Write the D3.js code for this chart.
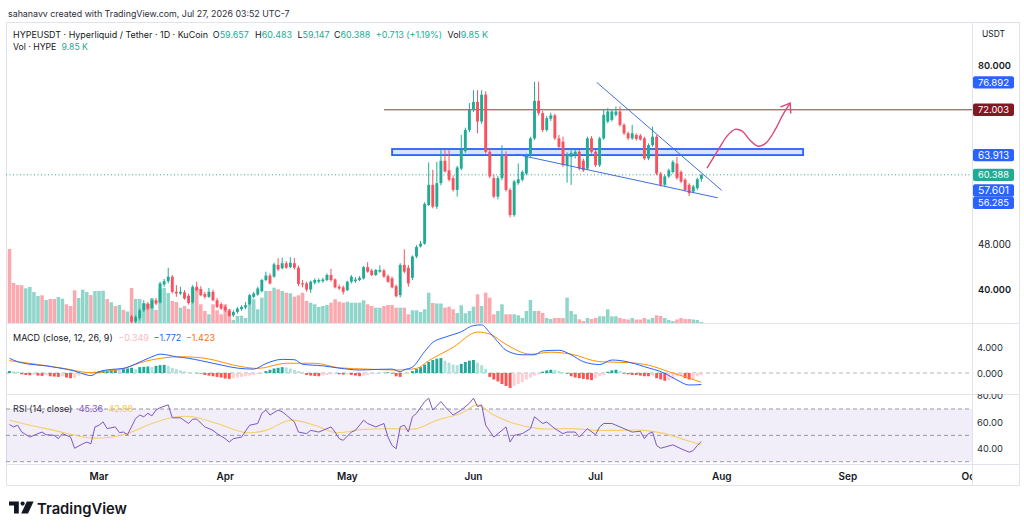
<!DOCTYPE html>
<html><head><meta charset="utf-8">
<script src="https://cdn.jsdelivr.net/npm/d3@7"></script>
<style>body{margin:0;background:#fff;} svg{display:block;font-family:Inter,"Noto Sans",sans-serif;}</style>
</head><body><svg id="c" width="1024" height="530"></svg>
<script>
// ---------------- DATA ----------------
const startDay = "2026-02-07";          // day 0
const endDomainDay = "2026-10-01";
const candleFirstDay = 30;              // candles visible from this day on
const opens = [
 35.1,34.2,34.8,36.2,37.4,36.6,38.0,37.6,40.8,41.4,
 42.2,39.5,39.2,39.4,38.8,37.6,40.4,40.0,39.1,38.6,
 39.5,38.0,37.3,36.8,36.1,35.3,35.9,36.4,36.7,37.3,
 38.6,39.0,39.6,41.6,42.4,42.2,44.3,43.7,44.6,43.9,
 44.6,43.8,41.0,41.0,39.9,41.1,41.3,41.4,41.6,42.5,
 41.7,40.4,40.3,39.8,41.3,41.4,41.6,41.9,43.9,43.3,
 42.5,43.1,43.3,42.3,41.9,40.5,38.9,44.3,43.8,42.0,
 45.8,47.6,48.1,55.0,58.6,54.7,58.9,62.9,61.2,59.8,
 57.7,61.5,64.6,68.4,72.0,73.4,69.9,74.7,64.5,59.8,
 56.5,59.8,64.0,57.7,53.2,58.9,59.5,60.6,63.9,66.9,
 73.6,71.4,68.4,70.4,71.0,66.9,66.3,62.1,63.6,64.0,
 64.5,62.9,61.5,66.9,64.5,62.1,66.9,69.9,70.2,71.1,
 71.7,69.3,67.8,66.9,67.5,67.4,66.9,63.3,65.7,67.2,
 60.6,58.6,60.1,60.9,62.4,60.9,59.5,58.6,57.4,58.0,
 59.657];
const highs = [
 35.4,35.3,36.5,38.0,37.7,38.3,38.4,41.3,41.8,43.8,
 42.5,40.7,40.4,39.8,39.2,40.7,41.3,40.5,39.5,40.2,
 39.9,38.4,37.6,37.1,36.4,36.2,36.8,37.1,37.7,39.1,
 39.5,40.4,41.8,43.1,42.8,44.7,45.5,45.6,45.0,45.7,
 45.5,44.2,41.6,41.3,41.5,41.9,41.9,42.0,42.8,43.6,
 41.9,40.8,40.6,41.5,42.5,42.1,42.3,44.1,44.8,43.6,
 43.6,44.2,43.6,42.6,42.2,40.8,44.6,47.1,44.3,46.0,
 47.8,48.6,55.5,62.6,61.3,62.7,64.8,64.8,64.8,60.3,
 62.0,67.5,68.8,73.2,75.5,75.5,75.5,75.3,65.2,60.5,
 60.2,65.7,64.6,58.0,59.5,62.4,61.2,64.2,67.2,77.0,
 77.0,71.8,70.9,71.5,71.3,67.5,67.2,64.4,64.8,64.9,
 64.8,63.3,67.2,67.3,64.8,67.2,72.0,72.3,72.0,72.6,
 72.6,69.6,68.1,69.3,67.8,67.7,67.2,66.0,69.0,67.5,
 60.9,60.4,61.5,63.0,63.6,61.2,59.8,58.9,58.6,59.9,
 60.483];
const lows = [
 33.9,33.8,34.4,35.9,36.2,36.4,37.1,37.4,40.4,41.0,
 39.2,38.6,38.9,38.1,37.2,37.4,39.6,38.7,38.3,38.4,
 37.8,36.6,36.3,35.9,35.0,35.0,35.6,36.1,36.4,37.1,
 38.3,38.8,39.4,41.4,40.8,42.0,43.2,43.5,43.6,43.7,
 43.5,40.5,40.3,39.5,39.3,40.8,41.0,41.1,41.4,41.3,
 40.1,39.8,39.0,39.6,41.0,41.1,41.4,41.7,42.9,42.3,
 42.3,42.9,42.0,41.1,40.1,38.5,38.5,42.8,40.4,41.6,
 45.5,47.4,47.9,54.8,54.4,54.3,58.5,60.8,59.2,57.4,
 56.5,61.2,64.3,68.0,71.6,67.8,69.5,64.2,59.8,56.2,
 56.0,59.4,57.4,52.8,52.9,58.6,59.2,60.3,63.6,66.6,
 71.0,68.0,68.1,70.0,66.6,65.1,61.8,59.0,58.6,63.3,
 61.2,60.9,61.2,64.2,61.8,61.8,66.6,69.6,69.9,70.8,
 69.0,67.5,66.6,66.6,66.5,66.5,63.0,63.0,65.4,60.3,
 58.3,58.3,59.8,60.6,59.5,58.9,57.4,56.6,57.1,57.7,
 59.147];
const closes = [
 34.2,35.0,36.2,37.4,36.5,38.0,37.4,41.0,41.4,42.2,
 39.5,39.2,39.5,38.3,37.5,40.4,39.8,38.9,38.6,39.5,
 38.0,36.8,36.5,36.2,35.2,35.9,36.5,36.8,37.1,38.9,
 39.2,40.1,41.6,42.4,41.0,44.4,43.5,44.6,43.8,44.7,
 43.8,40.9,40.8,39.9,41.3,41.6,41.6,41.7,42.5,41.6,
 40.3,40.1,39.5,41.3,42.2,41.7,42.0,43.9,43.1,42.5,
 43.4,43.4,42.2,41.3,40.3,38.7,44.3,43.1,41.0,45.8,
 47.5,48.1,55.2,58.6,54.7,58.9,62.9,61.0,59.5,57.7,
 61.7,64.8,68.4,72.0,73.4,69.9,74.7,64.5,60.1,56.5,
 59.8,64.0,57.7,53.2,59.2,59.6,60.9,63.9,66.9,73.6,
 71.4,68.4,70.5,71.0,66.9,65.4,62.1,63.9,64.3,64.5,
 61.5,61.2,66.9,64.5,62.1,66.9,71.1,71.7,71.7,71.7,
 69.3,67.8,66.9,67.8,66.8,66.7,63.3,65.7,67.2,60.6,
 58.6,60.1,61.2,62.7,59.8,59.2,57.7,57.1,58.3,59.6,
 60.388];
// volume (K) for every day from day 0
const volumes = [
 740,400,380,377,347,360,310,270,277,230,
 240,240,260,243,187,170,327,250,333,310,
 280,320,320,323,240,207,170,180,130,115,
 350,240,240,200,190,250,130,337,350,300,
 220,210,153,170,140,350,350,187,120,87,
 187,127,87,187,140,30,70,73,50,260,
 237,137,253,320,320,353,337,320,303,297,
 263,277,303,220,203,187,160,170,180,203,
 237,213,203,213,203,203,203,227,187,170,
 153,153,170,180,180,153,153,153,87,127,
 127,110,137,303,200,195,195,153,163,137,
 100,177,97,120,163,287,170,303,253,87,
 120,187,87,87,87,77,50,120,230,120,
 120,100,50,40,50,50,50,253,120,87,
 37,20,50,40,50,67,67,137,67,67,
 50,40,35,50,35,35,50,35,50,77,
 70,50,30,20,35,50,40,40,35,30,
 10];
const earlyVolDir = "dddduuuududduuddduuuduuudududu"; // days before first visible candle
// MACD histogram, daily
const macdHist = [
 0.3,0.25,0.2,-0.2,-0.3,-0.35,-0.3,-0.4,-0.45,-0.35,
 -0.5,-0.55,-0.6,-0.5,-0.7,-0.8,-0.75,-0.4,-0.2,-0.1,
 0.1,0.2,0.3,0.35,0.4,0.45,0.5,0.45,0.6,0.7,
 0.8,0.6,0.9,0.95,1.0,0.9,1.1,1.2,1.25,1.1,
 0.8,0.6,0.4,0.25,0.1,0.05,-0.05,-0.1,-0.3,-0.4,
 -0.5,-0.6,-0.7,-0.85,-0.9,-0.8,-0.7,-0.6,-0.5,-0.4,
 -0.3,-0.2,-0.1,0.3,0.5,0.7,0.8,0.9,0.85,0.7,
 0.5,0.3,0.1,-0.3,-0.4,-0.45,-0.5,-0.4,-0.3,-0.2,
 -0.15,-0.2,-0.25,-0.2,-0.3,-0.4,-0.5,-0.4,-0.3,-0.15,
 -0.1,-0.05,0.05,0.1,-0.1,-0.5,-0.6,-0.2,-0.05,0.3,
 0.6,0.9,1.3,1.7,2.0,2.2,2.3,1.9,1.6,1.3,
 1.2,1.4,1.7,1.9,2.0,1.6,1.2,0.6,-0.6,-1.0,
 -1.3,-1.7,-2.0,-2.3,-2.0,-1.7,-1.4,-1.0,-0.7,-0.4,
 -0.2,0.2,0.4,0.5,0.45,0.3,0.1,-0.1,-0.5,-0.7,
 -0.8,-0.9,-1.0,-1.1,-0.8,-0.5,-0.3,0.2,0.4,0.5,
 0.3,-0.1,-0.2,-0.3,-0.3,-0.4,-0.5,-0.5,-0.4,-0.8,
 -1.0,-1.2,-1.1,-0.9,-0.5,-0.4,-0.8,-1.0,-0.95,-0.5,
 -0.349];
const macdDays = [0,2,5,9,12,16,19,20,22,25,28,31,35,37,41,44,47,52,56,60,63,67,70,72,77,81,86,90,94,96,97,99,102,104,107,111,114,116,118,120,122,126,129,131,135,138,141,145,148,152,156,161,164,167,170];
const macdVals = [2.26,1.74,1.35,1.1,0.8,0.3,-0.3,-0.4,0.2,0.55,0.7,1.4,2.5,2.9,2.5,2.26,1.9,1.23,0.75,0.6,1.45,2.1,2.05,1.35,1.1,0.75,0.46,0.55,0.6,0.2,0.5,0.9,3.3,4.7,5.5,6.35,7.3,7.4,6.2,4.8,3.5,2.8,2.8,3.4,3.5,2.8,1.74,1.3,2.0,1.7,0.97,-0.05,-1.08,-1.85,-1.772];
const signalDays = [0,7,13,20,27,34,42,48,57,61,68,75,81,88,95,100,103,109,115,118,122,128,133,138,145,152,157,162,167,170];
const signalVals = [1.9,1.3,0.75,0.05,0.55,1.9,2.5,2.26,0.97,0.7,1.5,1.5,0.8,0.6,0.46,0.7,1.9,3.95,6.3,6.0,4.4,2.9,3.2,2.9,1.74,1.6,1.2,0.2,-0.8,-1.423];
const rsiDays = [0,1,2,3,5,7,8,9,11,12,13,15,16,18,19,20,21,22,23,24,26,27,28,29,31,32,33,34,35,36,37,39,40,42,44,45,46,48,50,51,53,54,55,57,59,61,62,63,64,66,67,68,70,71,73,74,76,78,79,80,81,82,84,85,87,88,90,92,93,94,95,96,97,98,99,100,102,103,104,106,107,109,111,113,114,115,116,117,119,121,122,123,124,126,128,129,131,132,134,136,137,139,140,142,144,145,146,148,150,152,153,155,156,157,158,159,160,163,165,167,168,169,170];
const rsiVals = [58.2,56.4,57.7,52.5,48.7,51.3,52.5,50.5,50,47.5,51.3,48.7,40.2,43.6,44.9,43.6,56.4,57.7,60.2,55.1,56.4,52.1,52.5,50.5,62.8,65.4,64.1,66.7,64.8,69.2,71,73.1,63.3,63.3,59,62.3,62.3,56.4,53.8,51.3,47.5,44.9,47.5,48.7,57.7,59,66.7,69.2,65.4,69.2,67.9,65.4,60.2,52.5,51.3,53.8,52.5,55.1,56.4,52.5,47.5,46.2,52.5,53.8,61.5,59,56.4,59,48.7,42.3,39.8,56.4,57.7,52.5,64.1,66.7,75.6,78.2,69.2,75.6,71.8,65.4,69.2,74.4,78.2,71.8,73.1,57.7,48.7,53.8,56.4,44.9,50,51.3,55.1,64.1,59,60.2,55.1,51.3,52.5,52.5,48.7,55.1,50.5,56.4,59,59,56.4,53.8,52.5,53.1,47.5,51.3,52.5,42.3,40.2,42.8,39.8,37.2,38.5,42.3,45.36];
const rsiMaDays = [0,5,11,17,21,28,35,41,45,51,58,63,69,75,80,87,94,100,105,111,115,119,124,130,138,144,149,156,161,165,170];
const rsiMaVals = [61.5,57.7,53.8,49.4,47.9,50.5,59,64.1,64.1,59,52.1,53.8,61.5,57.7,52.1,54.6,55.1,55.1,61.5,66.7,73.1,65.4,59,55.1,55.1,53.8,53.8,53.8,51.3,47.5,42.88];
// axes / ticks
const monthTicks = ["2026-03-01","2026-04-01","2026-05-01","2026-06-01","2026-07-01","2026-08-01","2026-09-01","2026-10-01"];
const monthLabels = ["Mar","Apr","May","Jun","Jul","Aug","Sep","Oct"];
const priceTicks = [80, 48, 40];
const priceTickBold = [true, false, true];
const macdTicks = [4, 0];
const rsiTicks = [80, 60, 40];
const rsiLevels = [70, 50, 30];
// drawings
const markerLevels = [76.892, 72.003, 63.913, 60.388, 57.601, 56.285];
const markerColors = ["#2962ff", "#801922", "#2962ff", "#22ab94", "#2962ff", "#2962ff"];
const lastPrice = 60.388;
const resistanceLevel = 72.003, resistanceFromDay = 92;
const zoneTop = 65.0, zoneBottom = 63.913, zoneFromDay = 94, zoneToDay = 195;
const upperTrend = [[144.3, 76.892], [175, 57.601]];
const lowerTrend = [[124.5, 64.05], [174, 56.285]];
const projection = [[171.4,61.6],[174.1,64.8],[176.3,67.3],[178.3,68.5],[180.0,68.2],[181.9,66.6],[183.9,65.5],[185.9,66.1],[188.1,68.4],[190.0,71.1],[191.8,73.2]];

// ---------------- DRAW ----------------
const UP = "#22ab94", DN = "#f7525f";
const svg = d3.select("#c");
const L = 6, R = 972;
const P = {top: 22, bot: 323}, M = {top: 323, bot: 394}, RS = {top: 394, bot: 464}, TA = {bot: 485};

const t0 = Date.parse(startDay + "T00:00:00Z");
const dayDate = i => new Date(t0 + i * 864e5);
const x = d3.scaleUtc().domain([dayDate(0), new Date(Date.parse(endDomainDay + "T00:00:00Z"))]).range([9.5, 970]);
const X = i => x(dayDate(i));
const yP = d3.scaleLinear().domain([40, 80]).range([289, 65]);
const yV = d3.scaleLinear().domain([0, 740]).range([P.bot, P.bot - 74]);
const yM = d3.scaleLinear().domain([0, 4]).range([373, 347]);
const yR = d3.scaleLinear().domain([30, 70]).range([461.7, 409]);

const defs = svg.append("defs");
function clip(id, x0, y0, w, h){ defs.append("clipPath").attr("id", id).append("rect").attr("x", x0).attr("y", y0).attr("width", w).attr("height", h); }
clip("cp", L, P.top, R - L, P.bot - P.top);
clip("cm", L, M.top, R - L, M.bot - M.top);
clip("cr", L, RS.top, R - L, RS.bot - RS.top);
clip("crAxis", R, RS.top, 50, RS.bot - RS.top);
clip("cTime", L, RS.bot, R - L, TA.bot - RS.bot);

svg.append("rect").attr("width", 1024).attr("height", 530).attr("fill", "#fff");

// text whose font size is fitted to a target width (no glyph stretching)
function fitText(g, x0, y0, s, target, o = {}) {
  const base = o.size || 10;
  const t = g.append("text").attr("x", x0).attr("y", y0).text(s)
    .attr("font-size", base).attr("fill", o.fill || "#131722")
    .attr("font-weight", o.weight || 400).attr("text-anchor", o.anchor || "start");
  if (target) {
    const w = t.node().getComputedTextLength();
    if (w > 0) t.attr("font-size", (base * target / w).toFixed(2));
  }
  return t;
}
// row of coloured pieces laid out one after another and fitted to total width
function row(x0, y0, pieces, total) {
  const probe = svg.append("text").attr("font-size", 10);
  const widths = pieces.map(p => { probe.text(p[0]); return probe.node().getComputedTextLength(); });
  probe.remove();
  const natural = d3.sum(widths) + d3.sum(pieces, p => p[2] || 0);
  const k = total / natural;
  let cx = x0;
  pieces.forEach((p, i) => {
    svg.append("text").attr("x", cx).attr("y", y0).attr("font-size", (10 * k).toFixed(2))
      .attr("fill", p[1] || "#131722").text(p[0]);
    cx += (widths[i] + (p[2] || 0)) * k;
  });
}

// header
fitText(svg, 8, 17, "sahanavv created with TradingView.com, Jul 27, 2026 03:52 UTC-7", 282, {size: 10.5, fill: "#2a2e39"});

// frame
svg.append("rect").attr("x", L + 0.5).attr("y", P.top + 0.5).attr("width", 1019 - L).attr("height", TA.bot - P.top)
  .attr("fill", "none").attr("stroke", "#e0e3eb");
[M.top, M.bot, RS.bot].forEach(yy => svg.append("line").attr("x1", L).attr("x2", 1019).attr("y1", yy + 0.5).attr("y2", yy + 0.5).attr("stroke", "#e0e3eb"));
svg.append("line").attr("x1", R + 0.5).attr("x2", R + 0.5).attr("y1", P.top).attr("y2", TA.bot).attr("stroke", "#e0e3eb");

// ---- price pane ----
const gp = svg.append("g").attr("clip-path", "url(#cp)");
const vols = volumes.map((v, i) => ({i, v, up: i < candleFirstDay ? earlyVolDir[i] === "u" : closes[i - candleFirstDay] >= opens[i - candleFirstDay]}));
gp.selectAll("rect.vol").data(vols).join("rect").attr("class", "vol")
  .attr("x", d => X(d.i) - 1.75).attr("width", 3.5)
  .attr("y", d => yV(d.v)).attr("height", d => yV(0) - yV(d.v))
  .attr("fill", d => d.up ? "rgba(34,171,148,0.5)" : "rgba(247,82,95,0.5)");

// zone box
gp.append("rect").attr("x", X(zoneFromDay)).attr("width", X(zoneToDay) - X(zoneFromDay))
  .attr("y", yP(zoneTop)).attr("height", yP(zoneBottom) - yP(zoneTop))
  .attr("fill", "rgba(41,98,255,0.18)").attr("stroke", "#2962ff").attr("stroke-width", 1.8);
// resistance
gp.append("line").attr("x1", X(resistanceFromDay)).attr("x2", R).attr("y1", yP(resistanceLevel)).attr("y2", yP(resistanceLevel))
  .attr("stroke", "#a0333b").attr("stroke-width", 1);
// last price dotted
gp.append("line").attr("x1", L).attr("x2", R).attr("y1", yP(lastPrice)).attr("y2", yP(lastPrice))
  .attr("stroke", UP).attr("stroke-width", 1).attr("stroke-dasharray", "1,2.5");

const candles = opens.map((o, k) => ({i: candleFirstDay + k, o, h: highs[k], l: lows[k], c: closes[k]}));
gp.selectAll("line.wick").data(candles).join("line").attr("class", "wick")
  .attr("x1", d => X(d.i)).attr("x2", d => X(d.i)).attr("y1", d => yP(d.h)).attr("y2", d => yP(d.l))
  .attr("stroke", d => d.c >= d.o ? UP : DN).attr("stroke-width", 1);
gp.selectAll("rect.body").data(candles).join("rect").attr("class", "body")
  .attr("x", d => X(d.i) - 1.45).attr("width", 2.9)
  .attr("y", d => yP(Math.max(d.o, d.c))).attr("height", d => Math.max(0.9, Math.abs(yP(d.o) - yP(d.c))))
  .attr("fill", d => d.c >= d.o ? UP : DN);

// trend lines
[upperTrend, lowerTrend].forEach(tl => gp.append("line")
  .attr("x1", X(tl[0][0])).attr("y1", yP(tl[0][1])).attr("x2", X(tl[1][0])).attr("y2", yP(tl[1][1]))
  .attr("stroke", "#3f6fe0").attr("stroke-width", 1));

// projection curve with arrow
const projLine = d3.line().x(d => X(d[0])).y(d => yP(d[1])).curve(d3.curveCatmullRom);
gp.append("path").attr("d", projLine(projection)).attr("fill", "none").attr("stroke", "#e0457b").attr("stroke-width", 1.4);
{
  const a = projection[projection.length - 2], b = projection[projection.length - 1];
  const bx = X(b[0]), by = yP(b[1]), ax = X(a[0]), ay = yP(a[1]);
  const ang = Math.atan2(by - ay, bx - ax);
  const len = 10;
  [ang + Math.PI * 0.8, ang - Math.PI * 0.8].forEach(t => gp.append("line")
    .attr("x1", bx).attr("y1", by).attr("x2", bx + len * Math.cos(t)).attr("y2", by + len * Math.sin(t))
    .attr("stroke", "#e0457b").attr("stroke-width", 1.4).attr("stroke-linecap", "round"));
}

// legends
const T = UP;
row(13, 37.5, [["HYPEUSDT · Hyperliquid / Tether · 1D · KuCoin", null, 5], ["O"], ["59.657", T, 7], ["H"], ["60.483", T, 6], ["L"], ["59.147", T, 5], ["C"], ["60.388", T, 6], ["+0.713 (+1.19%)", T, 6], ["Vol"], ["9.85 K", T]], 475);
row(13, 49.5, [["Vol · HYPE", null, 6], ["9.85 K", T]], 75);

// ---- MACD pane ----
const gm = svg.append("g").attr("clip-path", "url(#cm)");
gm.append("line").attr("x1", L).attr("x2", R).attr("y1", yM(0)).attr("y2", yM(0))
  .attr("stroke", "#b2b5be").attr("stroke-dasharray", "4,3");
const hist = macdHist.map((h, i) => {
  const p = i > 0 ? macdHist[i - 1] : h;
  const col = h >= 0 ? (h >= p ? "#26a69a" : "#b2dfdb") : (h <= p ? "#ff5252" : "#ffcdd2");
  return {i, h, col};
});
gm.selectAll("rect.h").data(hist).join("rect").attr("class", "h")
  .attr("x", d => X(d.i) - 1.45).attr("width", 2.9)
  .attr("y", d => Math.min(yM(0), yM(d.h))).attr("height", d => Math.abs(yM(d.h) - yM(0)))
  .attr("fill", d => d.col);
const lineM = d3.line().x(d => X(d[0])).y(d => yM(d[1])).curve(d3.curveMonotoneX);
gm.append("path").attr("d", lineM(signalDays.map((d, k) => [d, signalVals[k]]))).attr("fill", "none").attr("stroke", "#ff9100").attr("stroke-width", 1);
gm.append("path").attr("d", lineM(macdDays.map((d, k) => [d, macdVals[k]]))).attr("fill", "none").attr("stroke", "#2962ff").attr("stroke-width", 1);
row(13, 340.5, [["MACD (close, 12, 26, 9)", null, 6], ["\u22120.349", "#f8bcc3", 5], ["\u22121.772", "#2962ff", 5], ["\u22121.423", "#ff6d00"]], 202);

// ---- RSI pane ----
const gr = svg.append("g").attr("clip-path", "url(#cr)");
gr.append("rect").attr("x", L).attr("width", R - L).attr("y", yR(70)).attr("height", yR(30) - yR(70)).attr("fill", "rgba(126,87,194,0.1)");
rsiLevels.forEach(v => gr.append("line").attr("x1", L).attr("x2", R).attr("y1", yR(v)).attr("y2", yR(v))
  .attr("stroke", "#9598a1").attr("stroke-dasharray", "4,3"));
gr.append("path").attr("d", d3.line().x(d => X(d[0])).y(d => yR(d[1])).curve(d3.curveCatmullRom)(rsiMaDays.map((d, k) => [d, rsiMaVals[k]])))
  .attr("fill", "none").attr("stroke", "#f4cf6a").attr("stroke-width", 1.1);
gr.append("path").attr("d", d3.line().x(d => X(d[0])).y(d => yR(d[1]))(rsiDays.map((d, k) => [d, rsiVals[k]])))
  .attr("fill", "none").attr("stroke", "#7e57c2").attr("stroke-width", 1);
row(13, 411.5, [["RSI (14, close)", "#2a2e39", 7], ["45.36", "#7e57c2", 6], ["42.88", "#f2c94c"]], 120);

// ---- price axis ----
fitText(svg, 993.5, 36.5, "USDT", 23, {size: 9.5, anchor: "middle"});
priceTicks.forEach((v, k) => fitText(svg, 978, yP(v) + 3.6, d3.format(".3f")(v), 33, {weight: priceTickBold[k] ? 600 : 400}));
const mk = markerLevels.map((v, k) => ({v, c: markerColors[k], y: yP(v)})).sort((a, b) => a.y - b.y);
for (let k = 1; k < mk.length; k++) if (mk[k].y < mk[k - 1].y + 12.4) mk[k].y = mk[k - 1].y + 12.4;
mk.forEach(m => {
  svg.append("rect").attr("x", 973).attr("y", m.y - 6.2).attr("width", 41).attr("height", 12.4).attr("rx", 2).attr("fill", m.c);
  fitText(svg, 978, m.y + 3.6, d3.format(".3f")(m.v), 31, {fill: "#fff"});
});
macdTicks.forEach(v => fitText(svg, 977, yM(v) + 3.6, d3.format(".3f")(v), 26, {fill: "#2a2e39"}));
const gra = svg.append("g").attr("clip-path", "url(#crAxis)");
rsiTicks.forEach(v => fitText(gra, 977, yR(v) + 3.6, d3.format(".2f")(v), 26, {fill: "#2a2e39"}));

// ---- time axis ----
const gt = svg.append("g").attr("clip-path", "url(#cTime)");
monthTicks.forEach((m, k) => fitText(gt, x(new Date(Date.parse(m + "T00:00:00Z"))), 479.5, monthLabels[k], null, {size: 10, weight: 600, anchor: "middle"}));

// ---- TradingView logo ----
const lg = svg.append("g").attr("fill", "#131722");
lg.append("path").attr("d", "M9,501.5 H18.8 V513.5 H14 V505.6 H9 Z");
lg.append("circle").attr("cx", 22.6).attr("cy", 503.6).attr("r", 2.1);
lg.append("path").attr("d", "M26.8,501.5 H33.6 L28,513.5 H21.2 Z");
fitText(svg, 37, 513.5, "TradingView", 90, {size: 17, weight: 600});
</script></body></html>
